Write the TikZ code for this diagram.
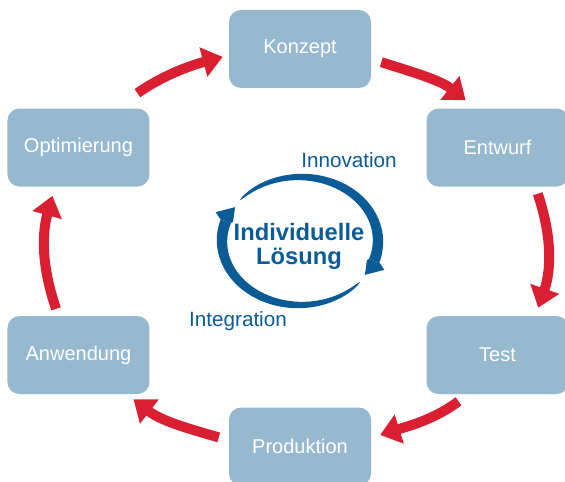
\documentclass[tikz,border=0pt]{standalone}
\usepackage{fontspec}
\setmainfont{Liberation Sans}
\usepackage{tikz}
\usepackage{xcolor}
\usetikzlibrary{positioning}
\usetikzlibrary{arrows.meta}
\definecolor{boxblue}{HTML}{97B9D0}
\definecolor{flowred}{HTML}{DA1F33}
\definecolor{ringblue}{HTML}{0B5B97}

\begin{document}
\begin{tikzpicture}[x=0.75pt, y=0.75pt,
        declare function={hw(\t,\a,\b)=0.2+5.3*sqrt(abs(\a-\t)/\b);},
        state/.style={
        fill=boxblue,
        rectangle,
        text=white,
        minimum width=106.5pt,
        minimum height=58.5pt,
        inner sep=0pt,
        align=center,
        rounded corners=9pt,
        font=\fontsize{15}{18}\selectfont},
        flow/.style={
        draw=flowred,
        line width=7.5pt,
        -{Triangle[length=15pt,width=22pt]}},
        ring/.style={fill=ringblue},
        label/.style={text=ringblue, font=\fontsize{15.5}{18}\selectfont}]

        \useasboundingbox (0,0) rectangle (565,482);

        \node[state] (K) at (300,433) {Konzept};
        \node[state] (E) [below right=15pt and 41.25pt of K] {Entwurf};
        \node[state] (T) [below=96.75pt of E] {Test};
        \node[state] (P) [below=239.25pt of K] {Produktion};
        \node[state] (O) [below left=15pt and 59.25pt of K] {Optimierung};
        \node[state] (A) [below=96.75pt of O] {Anwendung};

        \path (K.-8) edge [flow, out=-17.5, in=141.6, shorten <=7.9pt, shorten >=9.7pt] (E.119); % Konzept->Entwurf
        \path (E.-46) edge [flow, out=-71.5, in=71, shorten <=5.5pt, shorten >=6.4pt] (T.46);
        \path (T.-127) edge [flow, out=-143.4, in=17.4, shorten <=8.8pt, shorten >=7pt] (P.7);
        \path (P.175) edge [flow, out=163.9, in=-37.7, shorten <=7.8pt, shorten >=6.2pt] (A.-39);
        \path (A.117) edge [flow, out=109, in=-105.4, shorten <=5.5pt, shorten >=7pt] (O.-121);
        \path (O.46) edge [flow, out=35.6, in=195.1, shorten <=19.4pt, shorten >=4.7pt] (K.185); % Optimierung->Konzept

        \node[align=center, text=ringblue, font=\fontsize{17.8}{17.5}\selectfont\bfseries] (L) at (299,235.5) {Individuelle\\Lösung};
        \node[label] (I) at (349,322) {Innovation};
        \node[label] (G) at (238,161) {Integration};

        % ring round the centre
        \begin{scope}[shift={(300,241)}]
        \fill[ring] plot[domain=140:-18, samples=50, variable=\t] ({(78+hw(\t,140,158))*cos(\t)}, {(64+hw(\t,140,158))*sin(\t)})
            -- plot[domain=-18:140, samples=50, variable=\t] ({(78-hw(\t,140,158))*cos(\t)}, {(64-hw(\t,140,158))*sin(\t)}) -- cycle;
        \fill[ring] (-32.5:77 and 63) -- (-22:91 and 77) -- (-18:83.5 and 69.5) -- (-18:72.5 and 58.5) -- (-19.5:71 and 57) -- cycle;
        \fill[ring] plot[domain=-40:-198, samples=50, variable=\t] ({(78+hw(\t,-40,158))*cos(\t)}, {(64+hw(\t,-40,158))*sin(\t)})
            -- plot[domain=-198:-40, samples=50, variable=\t] ({(78-hw(\t,-40,158))*cos(\t)}, {(64-hw(\t,-40,158))*sin(\t)}) -- cycle;
        \fill[ring] (147.5:77 and 63) -- (158:91 and 77) -- (162:83.5 and 69.5) -- (162:72.5 and 58.5) -- (160.5:71 and 57) -- cycle;
        \end{scope}
\end{tikzpicture}
\end{document}
